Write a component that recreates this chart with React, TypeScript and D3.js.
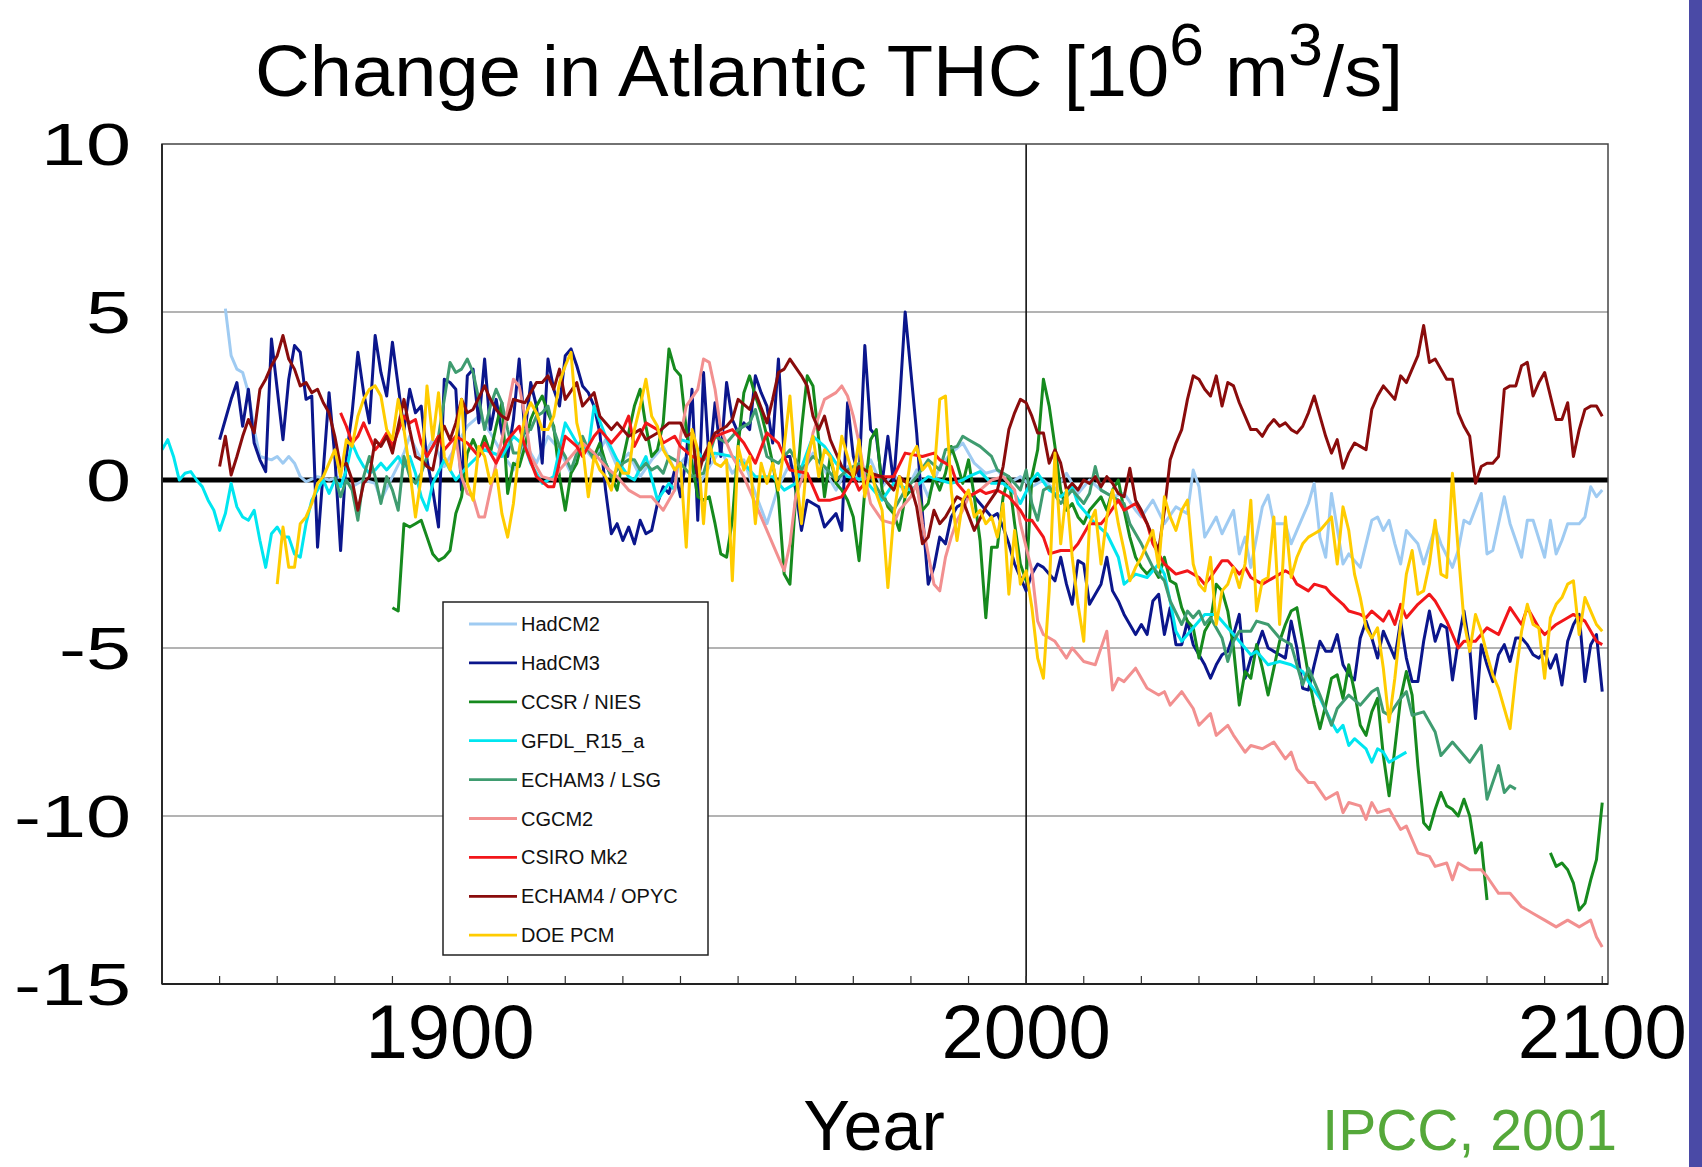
import * as d3 from "d3";

type Pt = [number, number | null];

// values, [year, Sv]
const hadcm2: Pt[] = [[1861,5.1],[1862,3.7],[1863,3.3],[1864,3.2],[1865,2.6],[1866,1.5],[1867,0.7],[1869,0.6],[1870,0.7],[1871,0.5],[1872,0.7],[1873,0.5],[1874,0.1],[1875,-0.05],[1877,0.1],[1879,0.0],[1881,0.1],[1883,-0.2],[1885,0.0],[1887,-0.1],[1888,-0.6],[1890,0.1],[1892,0.8],[1893,1.3],[1895,0.6],[1897,1.2],[1899,0.4],[1901,1.0],[1903,1.6],[1905,1.9],[1907,1.4],[1909,0.8],[1911,0.3],[1913,1.1],[1915,0.5],[1917,1.3],[1919,0.9],[1921,0.2],[1923,1.0],[1925,0.6],[1927,1.2],[1929,0.4],[1931,0.8],[1933,0.1],[1935,0.6],[1937,1.0],[1939,0.3],[1941,0.7],[1943,-0.2],[1945,0.4],[1947,0.9],[1949,0.2],[1951,0.6],[1953,-0.4],[1955,-1.3],[1957,-0.2],[1959,0.5],[1961,0.1],[1963,0.8],[1965,0.3],[1967,-0.3],[1969,0.4],[1971,0.0],[1973,0.6],[1975,-0.2],[1977,0.2],[1979,-0.4],[1981,0.3],[1983,-0.5],[1985,0.4],[1987,0.8],[1989,1.1],[1991,0.5],[1993,0.2],[1995,0.3],[1997,-0.1],[1999,0.1],[2001,-0.2],[2003,0.0],[2005,-0.3],[2007,0.2],[2009,-0.4],[2011,0.0],[2013,-0.3],[2015,-0.5],[2017,-0.4],[2019,-0.9],[2020,-1.1],[2022,-0.6],[2024,-1.3],[2026,-0.8],[2028,-1.0],[2029,0.3],[2030,-0.2],[2031,-1.7],[2033,-1.1],[2034,-1.6],[2036,-0.9],[2037,-2.2],[2038,-1.7],[2039,-2.6],[2041,-0.8],[2042,-0.45],[2043,-1.3],[2045,-1.3],[2046,-1.9],[2047,-1.5],[2049,-0.7],[2050,-0.1],[2051,-1.7],[2052,-2.3],[2053,-0.4],[2055,-2.5],[2056,-2.2],[2058,-2.6],[2060,-1.2],[2061,-1.1],[2062,-1.5],[2063,-1.2],[2064,-1.9],[2065,-2.5],[2066,-1.5],[2068,-1.9],[2069,-2.5],[2071,-1.4],[2072,-1.9],[2074,-2.6],[2075,-2.1],[2076,-1.2],[2077,-1.3],[2079,-0.4],[2080,-2.2],[2081,-2.1],[2083,-0.5],[2084,-1.3],[2086,-2.3],[2087,-1.2],[2088,-1.2],[2090,-2.3],[2091,-1.2],[2092,-2.2],[2093,-1.8],[2094,-1.3],[2096,-1.3],[2097,-1.1],[2098,-0.2],[2099,-0.5],[2100,-0.3]];

const hadcm3: Pt[] = [[1860,1.2],[1861,1.8],[1862,2.4],[1863,2.9],[1864,1.6],[1865,2.7],[1866,1.1],[1867,0.6],[1868,0.25],[1869,4.2],[1870,2.7],[1871,1.2],[1872,3.0],[1873,4.0],[1874,3.8],[1875,2.4],[1876,2.5],[1877,-2.0],[1878,0.3],[1879,2.6],[1880,0.7],[1881,-2.1],[1882,0.7],[1883,2.0],[1884,3.8],[1885,2.6],[1886,1.7],[1887,4.3],[1888,3.2],[1889,2.5],[1890,4.1],[1891,2.8],[1892,1.5],[1893,2.7],[1894,2.0],[1895,2.2],[1896,0.6],[1897,-0.3],[1898,-1.4],[1899,3.0],[1900,2.9],[1901,2.7],[1902,-0.3],[1903,3.1],[1904,3.3],[1905,1.7],[1906,3.6],[1907,1.5],[1908,2.4],[1909,1.4],[1910,0.7],[1911,1.8],[1912,3.6],[1913,1.4],[1914,2.9],[1915,2.2],[1916,0.5],[1917,3.6],[1918,2.7],[1919,2.2],[1920,3.7],[1921,3.9],[1922,3.4],[1923,2.8],[1924,2.6],[1925,2.2],[1926,1.4],[1927,-0.3],[1928,-1.6],[1929,-1.3],[1930,-1.8],[1931,-1.4],[1932,-1.9],[1933,-1.2],[1934,-1.6],[1935,-1.5],[1936,-0.7],[1937,-0.2],[1938,-0.4],[1939,0.3],[1940,-0.5],[1941,0.7],[1942,2.7],[1943,-1.2],[1944,3.2],[1945,0.5],[1946,2.3],[1947,0.7],[1948,2.9],[1949,1.8],[1950,1.4],[1951,1.7],[1952,1.5],[1953,3.1],[1954,2.6],[1955,2.2],[1956,1.1],[1957,3.6],[1958,0.7],[1959,0.7],[1960,-0.3],[1961,-1.5],[1962,-0.6],[1963,-0.7],[1964,-0.8],[1965,-1.4],[1966,-1.2],[1967,-1.0],[1968,-1.5],[1969,2.3],[1970,0.7],[1971,0.1],[1972,4.0],[1973,1.5],[1974,1.3],[1975,-0.1],[1976,1.3],[1977,-0.1],[1978,2.2],[1979,5.0],[1980,3.2],[1981,1.4],[1982,-1.0],[1983,-3.1],[1984,-2.6],[1985,-1.7],[1986,-1.9],[1987,-1.1],[1988,-0.8],[1989,-0.7],[1990,-0.4],[1991,-0.5],[1992,-0.7],[1993,-0.9],[1994,-1.1],[1995,-1.0],[1996,-1.4],[1997,-1.9],[1998,-2.5],[1999,-2.9],[2000,-3.3],[2001,-2.8],[2002,-2.5],[2003,-2.6],[2004,-2.8],[2005,-3.0],[2006,-2.3],[2007,-3.1],[2008,-3.7],[2009,-2.4],[2010,-2.5],[2011,-3.7],[2012,-3.4],[2013,-3.1],[2014,-2.3],[2015,-3.3],[2016,-3.6],[2017,-4.0],[2018,-4.3],[2019,-4.6],[2020,-4.3],[2021,-4.6],[2022,-3.6],[2023,-3.4],[2024,-4.6],[2025,-3.8],[2026,-4.9],[2027,-4.9],[2028,-4.2],[2029,-4.9],[2030,-5.2],[2031,-5.5],[2032,-5.9],[2033,-5.5],[2034,-5.2],[2035,-5.1],[2036,-4.6],[2037,-4.0],[2038,-5.9],[2039,-5.3],[2040,-5.0],[2041,-4.5],[2042,-5.0],[2043,-5.1],[2044,-5.2],[2045,-5.3],[2046,-4.2],[2047,-5.0],[2048,-6.2],[2049,-6.25],[2050,-5.5],[2051,-4.8],[2052,-5.1],[2053,-5.1],[2054,-4.6],[2055,-5.5],[2056,-5.8],[2057,-5.95],[2058,-4.7],[2059,-4.2],[2060,-4.7],[2061,-5.3],[2062,-4.5],[2063,-4.9],[2064,-5.3],[2065,-4.2],[2066,-5.3],[2067,-6.0],[2068,-6.0],[2069,-4.8],[2070,-3.9],[2071,-4.8],[2072,-4.3],[2073,-4.4],[2074,-5.95],[2075,-4.8],[2076,-3.9],[2077,-5.0],[2078,-7.1],[2079,-4.9],[2080,-5.5],[2081,-6.0],[2082,-5.2],[2083,-4.9],[2084,-5.4],[2085,-4.7],[2086,-4.7],[2087,-4.9],[2088,-5.2],[2089,-5.3],[2090,-5.1],[2091,-5.6],[2092,-5.2],[2093,-6.1],[2094,-4.8],[2095,-4.3],[2096,-4.0],[2097,-6.0],[2098,-4.9],[2099,-4.6],[2100,-6.3]];

const ccsr: Pt[] = [[1890,-3.8],[1891,-3.9],[1892,-1.3],[1893,-1.4],[1894,-1.3],[1895,-1.2],[1896,-1.7],[1897,-2.2],[1898,-2.4],[1899,-2.3],[1900,-2.1],[1901,-1.0],[1902,-0.5],[1903,0.8],[1904,1.2],[1905,0.8],[1906,1.3],[1907,0.8],[1908,1.6],[1909,2.3],[1910,-0.4],[1911,0.5],[1912,0.4],[1913,1.0],[1914,1.8],[1915,2.2],[1916,2.5],[1917,2.0],[1918,1.6],[1919,0.1],[1920,-0.9],[1921,0.2],[1922,0.5],[1923,1.2],[1924,0.9],[1925,0.7],[1926,1.1],[1927,0.5],[1928,0.1],[1929,-0.3],[1930,0.6],[1931,1.4],[1932,2.2],[1933,2.7],[1934,1.6],[1935,0.7],[1936,0.9],[1937,1.7],[1938,3.9],[1939,3.3],[1940,3.1],[1941,1.5],[1942,0.5],[1943,-0.5],[1944,-0.6],[1945,-0.5],[1946,-1.3],[1947,-2.2],[1948,-2.3],[1949,-1.2],[1950,1.0],[1951,2.6],[1952,3.1],[1953,2.5],[1954,2.0],[1955,1.3],[1956,0.5],[1957,-0.5],[1958,-2.8],[1959,-3.1],[1960,-0.5],[1961,1.5],[1962,3.1],[1963,2.8],[1964,1.2],[1965,-0.5],[1966,0.7],[1967,-0.1],[1968,-0.3],[1969,-0.6],[1970,-1.1],[1971,-2.4],[1972,-0.3],[1973,1.2],[1974,1.5],[1975,-0.3],[1976,-0.8],[1977,-1.0],[1978,-1.5],[1979,-0.5],[1980,-0.3],[1981,-0.2],[1982,-0.9],[1983,-0.7],[1984,0.1],[1985,-0.3],[1986,0.2],[1987,1.0],[1988,0.5],[1989,-0.1],[1990,0.6],[1991,-0.5],[1992,-1.8],[1993,-4.1],[1994,-2.0],[1995,-2.0],[1996,-0.5],[1997,0.1],[1998,-1.3],[1999,-2.5],[2000,-3.0],[2001,0.1],[2002,0.9],[2003,3.0],[2004,2.2],[2005,1.0],[2006,-0.3],[2007,-0.9],[2008,-0.7],[2009,-1.1],[2010,-1.3],[2011,-0.9],[2012,-0.7],[2013,-0.5],[2014,-0.9],[2015,-0.3],[2016,0.0],[2017,-0.9],[2018,-1.7],[2019,-2.3],[2020,-2.6],[2021,-2.8],[2022,-2.6],[2023,-2.9],[2024,-2.3],[2025,-3.0],[2026,-3.1],[2027,-3.8],[2028,-4.2],[2029,-4.4],[2030,-5.3],[2031,-4.5],[2032,-4.2],[2033,-3.1],[2034,-3.3],[2035,-3.9],[2036,-5.0],[2037,-6.7],[2038,-5.7],[2039,-5.9],[2040,-4.9],[2041,-5.6],[2042,-6.4],[2043,-5.6],[2044,-4.8],[2045,-4.3],[2046,-3.9],[2047,-3.8],[2048,-4.8],[2049,-5.8],[2050,-6.7],[2051,-7.4],[2052,-6.7],[2053,-5.9],[2054,-5.8],[2055,-6.5],[2056,-5.5],[2057,-6.3],[2058,-7.3],[2059,-7.6],[2060,-6.9],[2061,-6.5],[2062,-8.2],[2063,-9.4],[2064,-8.0],[2065,-6.5],[2066,-5.7],[2067,-6.4],[2068,-8.5],[2069,-10.2],[2070,-10.4],[2071,-9.8],[2072,-9.3],[2073,-9.7],[2074,-9.8],[2075,-10.0],[2076,-9.5],[2077,-10.0],[2078,-11.1],[2079,-10.8],[2080,-12.5],[2085,null],[2091,-11.1],[2092,-11.5],[2093,-11.4],[2094,-11.6],[2095,-12.0],[2096,-12.8],[2097,-12.6],[2098,-11.9],[2099,-11.3],[2100,-9.6]];

const gfdl: Pt[] = [[1850,0.9],[1851,1.2],[1852,0.7],[1853,0.0],[1854,0.2],[1855,0.25],[1856,0.0],[1857,-0.2],[1858,-0.6],[1859,-0.9],[1860,-1.5],[1861,-1.0],[1862,-0.1],[1863,-0.8],[1864,-1.1],[1865,-1.2],[1866,-0.9],[1867,-1.8],[1868,-2.6],[1869,-1.6],[1870,-1.4],[1871,-1.7],[1872,-1.7],[1873,-2.2],[1874,-2.3],[1875,-1.3],[1876,-0.6],[1877,-0.3],[1878,0.0],[1879,-0.4],[1880,0.0],[1881,-0.2],[1882,0.3],[1883,1.1],[1884,0.7],[1885,0.4],[1886,0.2],[1887,0.3],[1888,0.5],[1889,0.3],[1890,0.5],[1891,0.7],[1892,0.4],[1893,0.7],[1894,0.2],[1895,-0.5],[1896,-0.9],[1897,-0.1],[1899,0.6],[1901,0.0],[1903,0.4],[1906,0.9],[1909,0.7],[1911,1.3],[1913,1.0],[1914,0.5],[1916,-0.1],[1918,0.1],[1920,1.7],[1922,1.1],[1924,0.9],[1925,2.2],[1927,1.3],[1929,0.6],[1931,0.1],[1932,0.0],[1934,0.7],[1936,-0.6],[1938,-0.1],[1939,-0.3],[1940,1.2],[1942,1.1],[1944,0.6],[1946,0.8],[1949,0.7],[1951,0.5],[1953,0.1],[1956,0.1],[1958,-0.3],[1960,-0.1],[1963,1.3],[1965,1.0],[1967,0.5],[1969,0.1],[1972,0.0],[1975,-0.6],[1977,-0.1],[1980,-0.3],[1983,0.1],[1985,0.0],[1987,-0.1],[1989,0.0],[1990,0.1],[1992,0.25],[1994,-0.1],[1996,-0.1],[1998,-0.4],[1999,-0.7],[2001,0.0],[2002,0.2],[2004,-0.3],[2006,-0.5],[2008,-0.2],[2009,-0.7],[2011,-1.1],[2012,-1.3],[2014,-1.6],[2016,-2.3],[2017,-3.1],[2019,-2.8],[2021,-2.9],[2023,-2.5],[2024,-2.8],[2025,-3.6],[2026,-4.5],[2027,-4.8],[2029,-4.4],[2031,-4.0],[2033,-4.0],[2035,-4.4],[2037,-4.8],[2039,-5.2],[2040,-5.1],[2042,-5.5],[2044,-5.4],[2046,-5.5],[2048,-5.7],[2049,-6.0],[2051,-6.5],[2053,-7.2],[2054,-7.5],[2055,-7.3],[2056,-7.9],[2057,-7.7],[2059,-8.0],[2060,-8.4],[2061,-8.0],[2062,-8.1],[2063,-8.4],[2064,-8.3],[2066,-8.1]];

const echam3: Pt[] = [[1880,0.1],[1881,-0.5],[1882,0.0],[1883,-0.3],[1884,-1.2],[1885,0.1],[1886,0.7],[1887,0.1],[1888,-0.7],[1889,0.1],[1890,-0.3],[1891,-0.9],[1892,0.7],[1893,0.1],[1894,-0.1],[1895,0.2],[1896,0.7],[1897,1.0],[1898,1.3],[1899,2.4],[1900,3.5],[1901,3.2],[1902,3.3],[1903,3.6],[1904,3.2],[1905,2.4],[1906,1.5],[1907,2.2],[1908,2.7],[1909,2.3],[1910,1.5],[1911,0.8],[1912,0.8],[1913,1.5],[1914,1.5],[1915,1.9],[1916,2.0],[1917,2.2],[1918,1.5],[1919,1.0],[1920,0.7],[1921,0.3],[1922,0.8],[1923,1.3],[1924,0.9],[1925,0.6],[1926,0.8],[1927,0.5],[1928,0.1],[1929,0.3],[1930,0.5],[1931,0.6],[1932,0.6],[1933,0.3],[1934,0.5],[1935,0.3],[1936,0.4],[1937,0.2],[1938,0.7],[1939,0.6],[1940,0.5],[1942,0.1],[1944,0.2],[1946,1.3],[1948,1.1],[1950,1.5],[1952,1.7],[1953,2.1],[1955,0.7],[1957,0.5],[1959,0.9],[1961,0.3],[1963,0.7],[1965,0.4],[1967,0.0],[1969,0.3],[1971,0.5],[1973,0.1],[1975,-0.5],[1977,-0.9],[1979,-0.3],[1981,0.1],[1983,0.6],[1985,0.3],[1986,0.9],[1988,1.0],[1989,1.3],[1990,1.2],[1992,1.0],[1994,0.7],[1995,0.3],[1997,0.1],[1999,-0.3],[2000,0.3],[2001,-0.7],[2002,-1.2],[2003,-0.3],[2004,-0.2],[2006,-0.7],[2008,-0.3],[2010,-0.7],[2011,-0.4],[2012,0.4],[2013,-0.3],[2015,-0.5],[2017,-0.7],[2018,-1.3],[2020,-1.9],[2022,-2.6],[2024,-3.0],[2025,-3.6],[2027,-4.3],[2028,-3.9],[2029,-4.1],[2030,-3.9],[2031,-4.3],[2032,-4.1],[2034,-4.7],[2035,-5.4],[2036,-4.8],[2037,-4.5],[2039,-4.5],[2040,-4.2],[2042,-4.3],[2043,-4.5],[2044,-4.7],[2045,-4.8],[2046,-4.9],[2047,-5.5],[2048,-6.1],[2049,-5.6],[2051,-6.4],[2053,-7.3],[2054,-6.8],[2056,-6.4],[2058,-6.7],[2060,-6.3],[2061,-6.2],[2062,-6.9],[2063,-7.0],[2065,-6.5],[2066,-6.3],[2067,-7.0],[2069,-6.9],[2071,-7.5],[2072,-8.2],[2074,-7.8],[2075,-8.0],[2077,-8.4],[2079,-7.9],[2080,-9.5],[2082,-8.5],[2083,-9.3],[2084,-9.1],[2085,-9.2]];

const cgcm2: Pt[] = [[1900,0.4],[1901,1.3],[1902,0.1],[1903,-0.4],[1904,-0.5],[1905,-1.1],[1906,-1.1],[1907,-0.3],[1908,0.5],[1909,1.2],[1910,2.1],[1911,3.0],[1912,2.8],[1913,1.9],[1914,0.7],[1916,0.1],[1918,0.0],[1919,0.3],[1921,0.7],[1923,1.1],[1925,0.8],[1927,0.4],[1929,0.1],[1931,-0.3],[1933,-0.5],[1935,-0.5],[1937,-0.9],[1939,-0.3],[1940,1.3],[1941,2.2],[1943,2.7],[1944,3.6],[1945,3.5],[1946,2.7],[1947,1.5],[1949,0.7],[1951,0.1],[1952,-0.3],[1954,-1.1],[1956,-1.9],[1958,-2.7],[1959,-1.9],[1960,-0.5],[1962,0.5],[1963,1.4],[1965,2.4],[1967,2.6],[1968,2.8],[1969,2.5],[1970,1.9],[1971,1.1],[1972,0.1],[1973,-0.7],[1975,-1.2],[1977,-1.3],[1978,-0.9],[1980,-0.5],[1981,-0.1],[1982,-1.3],[1984,-3.1],[1985,-3.3],[1986,-2.3],[1987,-1.7],[1988,-1.2],[1989,-0.9],[1990,-0.5],[1992,-0.3],[1994,0.0],[1996,0.1],[1998,-0.3],[1999,-1.3],[2001,-2.7],[2002,-4.2],[2003,-4.6],[2005,-4.8],[2007,-5.3],[2008,-5.0],[2010,-5.4],[2012,-5.5],[2014,-4.5],[2015,-6.25],[2016,-5.9],[2017,-6.0],[2019,-5.6],[2021,-6.2],[2023,-6.4],[2024,-6.3],[2025,-6.7],[2027,-6.3],[2029,-6.8],[2030,-7.3],[2032,-6.95],[2033,-7.6],[2035,-7.3],[2036,-7.6],[2038,-8.1],[2039,-7.9],[2041,-8.0],[2043,-7.8],[2045,-8.3],[2046,-8.1],[2047,-8.6],[2049,-9.0],[2050,-9.0],[2052,-9.5],[2054,-9.3],[2055,-9.9],[2056,-9.6],[2058,-9.7],[2059,-10.1],[2060,-9.6],[2061,-9.9],[2063,-9.8],[2065,-10.4],[2066,-10.3],[2068,-11.1],[2070,-11.2],[2071,-11.5],[2073,-11.4],[2074,-11.9],[2075,-11.4],[2077,-11.6],[2079,-11.6],[2080,-11.8],[2082,-12.3],[2084,-12.3],[2086,-12.7],[2088,-12.9],[2090,-13.1],[2092,-13.3],[2094,-13.1],[2096,-13.3],[2097,-13.2],[2098,-13.1],[2099,-13.6],[2100,-13.9]];

const csiro: Pt[] = [[1881,2.0],[1882,1.6],[1883,1.1],[1884,1.3],[1885,1.7],[1886,1.3],[1887,0.9],[1888,1.1],[1889,1.4],[1890,1.0],[1892,1.9],[1893,1.7],[1894,1.8],[1895,1.1],[1896,0.7],[1897,1.0],[1898,1.3],[1899,0.9],[1901,1.3],[1903,1.1],[1905,0.7],[1906,1.1],[1908,0.5],[1910,1.2],[1912,1.6],[1913,1.0],[1915,0.1],[1917,-0.2],[1918,-0.2],[1920,1.3],[1922,1.0],[1923,0.7],[1925,1.3],[1926,1.5],[1928,1.1],[1930,1.5],[1931,1.9],[1932,1.0],[1934,1.7],[1936,1.5],[1937,1.1],[1939,1.3],[1940,1.0],[1942,0.7],[1944,0.6],[1946,1.3],[1949,1.5],[1951,1.1],[1953,0.5],[1955,1.4],[1957,1.1],[1959,0.3],[1962,0.2],[1964,-0.6],[1966,-0.6],[1968,-0.5],[1970,0.1],[1971,-0.3],[1973,0.1],[1975,0.1],[1977,0.1],[1979,0.8],[1982,0.7],[1984,0.8],[1985,0.6],[1987,0.4],[1988,-0.1],[1990,-0.5],[1992,-0.3],[1993,-0.4],[1995,-0.3],[1997,-0.5],[1999,-0.9],[2000,-1.2],[2001,-1.2],[2003,-1.7],[2004,-2.2],[2006,-2.1],[2008,-2.1],[2009,-1.9],[2011,-1.3],[2013,-1.3],[2014,-1.1],[2016,-0.6],[2017,-0.9],[2019,-0.7],[2021,-1.3],[2022,-1.9],[2024,-2.5],[2026,-2.8],[2028,-2.7],[2030,-2.9],[2031,-3.1],[2032,-2.9],[2034,-2.4],[2035,-2.4],[2037,-2.8],[2038,-2.6],[2039,-2.9],[2041,-3.1],[2042,-3.0],[2044,-2.8],[2045,-2.7],[2046,-2.8],[2047,-3.1],[2049,-3.3],[2050,-3.1],[2052,-3.2],[2053,-3.4],[2055,-3.7],[2056,-3.9],[2058,-4.0],[2059,-4.1],[2060,-3.9],[2062,-4.2],[2063,-3.9],[2064,-4.3],[2065,-3.7],[2066,-4.1],[2068,-3.7],[2070,-3.4],[2071,-3.6],[2073,-4.2],[2075,-5.0],[2076,-4.8],[2078,-4.8],[2080,-4.4],[2082,-4.6],[2084,-3.8],[2086,-4.3],[2087,-3.8],[2089,-4.4],[2090,-4.6],[2092,-4.3],[2094,-4.1],[2095,-4.0],[2097,-4.2],[2099,-4.8],[2100,-4.9]];

const echam4: Pt[] = [[1860,0.4],[1861,1.3],[1862,0.15],[1863,0.7],[1864,1.3],[1865,1.8],[1866,1.4],[1867,2.7],[1868,3.0],[1869,3.4],[1870,3.7],[1871,4.3],[1872,3.6],[1873,3.3],[1874,2.8],[1875,2.9],[1876,2.6],[1877,2.7],[1878,2.3],[1879,2.0],[1880,1.3],[1881,0.4],[1882,0.5],[1883,0.0],[1884,-0.9],[1885,-0.1],[1886,0.1],[1887,1.2],[1888,1.0],[1889,1.3],[1890,0.8],[1891,1.6],[1892,2.4],[1893,1.5],[1894,0.7],[1895,0.6],[1896,0.4],[1897,0.3],[1898,1.2],[1899,1.6],[1900,1.2],[1901,1.7],[1902,2.4],[1903,2.0],[1904,2.1],[1906,2.8],[1907,2.4],[1908,2.1],[1909,1.9],[1910,1.8],[1911,2.4],[1913,2.3],[1915,2.9],[1916,2.9],[1917,3.1],[1918,2.7],[1919,3.3],[1920,2.4],[1922,2.9],[1923,2.2],[1925,2.6],[1926,1.9],[1928,1.5],[1929,1.7],[1931,1.3],[1933,1.5],[1934,1.2],[1936,1.4],[1938,1.7],[1940,1.7],[1941,1.3],[1942,1.4],[1943,0.1],[1944,0.7],[1946,1.4],[1948,1.6],[1949,1.8],[1950,2.4],[1952,2.1],[1953,2.6],[1955,1.7],[1956,2.4],[1957,3.2],[1958,3.3],[1959,3.6],[1961,3.1],[1962,2.8],[1963,1.9],[1964,1.5],[1965,1.9],[1966,1.2],[1968,0.4],[1970,0.1],[1971,0.4],[1973,0.2],[1975,0.1],[1977,-0.3],[1978,0.1],[1980,-0.2],[1981,-0.8],[1982,-1.9],[1983,-1.7],[1984,-0.9],[1985,-1.3],[1986,-1.1],[1988,-0.5],[1989,-0.6],[1991,-1.5],[1993,-0.8],[1995,-0.3],[1996,0.4],[1997,1.5],[1998,2.0],[1999,2.4],[2000,2.3],[2001,1.9],[2002,1.4],[2003,1.4],[2004,0.5],[2005,0.9],[2006,0.5],[2007,-0.3],[2008,-0.1],[2009,-0.3],[2010,0.0],[2011,-0.1],[2012,0.1],[2013,-0.2],[2014,0.1],[2015,-0.1],[2016,-0.4],[2017,-0.5],[2018,0.35],[2019,-0.6],[2020,-0.9],[2021,-1.3],[2022,-1.7],[2023,-2.1],[2024,-0.9],[2025,0.6],[2026,1.1],[2027,1.5],[2028,2.4],[2029,3.1],[2030,3.0],[2031,2.7],[2032,2.5],[2033,3.1],[2034,2.2],[2035,2.9],[2036,2.8],[2037,2.3],[2038,1.9],[2039,1.5],[2040,1.5],[2041,1.3],[2042,1.6],[2043,1.8],[2044,1.6],[2045,1.7],[2046,1.5],[2047,1.4],[2048,1.6],[2049,2.0],[2050,2.5],[2051,1.9],[2052,1.3],[2053,0.8],[2054,1.2],[2055,0.35],[2056,0.8],[2057,1.1],[2058,1.0],[2059,0.9],[2060,2.1],[2061,2.5],[2062,2.8],[2063,2.6],[2064,2.4],[2065,3.1],[2066,2.9],[2067,3.3],[2068,3.7],[2069,4.6],[2070,3.5],[2071,3.6],[2072,3.3],[2073,3.0],[2074,3.0],[2075,2.0],[2076,1.6],[2077,1.3],[2078,-0.1],[2079,0.4],[2080,0.5],[2081,0.5],[2082,0.7],[2083,2.7],[2084,2.8],[2085,2.8],[2086,3.4],[2087,3.5],[2088,2.5],[2089,2.9],[2090,3.2],[2091,2.5],[2092,1.8],[2093,1.8],[2094,2.3],[2095,0.7],[2096,1.5],[2097,2.1],[2098,2.2],[2099,2.2],[2100,1.9]];

const doepcm: Pt[] = [[1870,-3.1],[1871,-1.4],[1872,-2.6],[1873,-2.6],[1874,-1.3],[1875,-1.1],[1876,-0.7],[1877,-0.1],[1878,0.1],[1879,0.5],[1880,0.9],[1881,0.1],[1882,1.2],[1883,1.0],[1884,1.9],[1885,2.4],[1886,2.7],[1887,2.8],[1888,2.5],[1889,1.5],[1890,1.2],[1891,2.4],[1892,1.5],[1893,0.3],[1894,-1.1],[1895,0.1],[1896,2.8],[1897,1.2],[1898,2.6],[1899,0.7],[1900,0.3],[1901,1.2],[1902,2.4],[1903,-0.1],[1904,-0.6],[1905,1.0],[1906,0.7],[1907,-0.1],[1908,0.3],[1909,-1.0],[1910,-1.7],[1911,-0.7],[1912,0.9],[1913,1.9],[1914,2.3],[1915,2.0],[1916,1.5],[1917,1.5],[1918,1.9],[1919,2.9],[1920,3.4],[1921,3.8],[1922,1.7],[1923,1.0],[1924,-0.5],[1925,0.7],[1926,0.3],[1927,0.1],[1928,-0.3],[1929,0.5],[1930,0.2],[1931,0.2],[1932,1.5],[1933,2.2],[1934,3.0],[1935,1.9],[1936,1.6],[1937,0.9],[1938,0.6],[1939,0.3],[1940,0.5],[1941,-2.0],[1942,1.5],[1943,0.9],[1944,-1.3],[1945,1.1],[1946,0.5],[1947,0.4],[1948,0.6],[1949,-3.0],[1950,1.0],[1951,0.3],[1952,0.7],[1953,-1.3],[1954,0.5],[1955,-0.1],[1956,0.5],[1957,-0.3],[1958,1.0],[1959,2.5],[1960,0.3],[1961,-1.3],[1962,0.7],[1963,1.3],[1964,0.1],[1965,0.9],[1966,0.7],[1967,0.0],[1968,1.3],[1969,0.7],[1970,0.1],[1971,1.2],[1972,-0.5],[1973,0.4],[1974,-0.4],[1975,-0.9],[1976,-3.2],[1977,-1.1],[1978,0.1],[1979,-0.5],[1980,0.7],[1981,1.0],[1982,0.3],[1983,0.5],[1984,0.1],[1985,2.4],[1986,2.5],[1987,-0.3],[1988,-1.8],[1989,-0.6],[1990,-0.3],[1991,-1.1],[1992,-0.9],[1993,-1.3],[1994,-1.1],[1995,-1.7],[1996,-0.7],[1997,-3.4],[1998,-1.5],[1999,-3.1],[2000,-2.7],[2001,-3.8],[2002,-5.3],[2003,-5.9],[2004,-3.3],[2005,0.8],[2006,-1.9],[2007,-0.3],[2008,-2.3],[2009,-3.7],[2010,-4.8],[2011,-1.3],[2012,-0.9],[2013,-2.5],[2014,-1.1],[2015,-0.3],[2016,-1.3],[2017,-2.1],[2018,-3.0],[2019,-2.6],[2020,-2.3],[2021,-1.9],[2022,-1.5],[2023,-2.6],[2024,-0.5],[2025,-1.1],[2026,-1.5],[2027,-0.9],[2028,-0.6],[2029,-2.5],[2030,-3.1],[2031,-3.3],[2032,-2.3],[2033,-4.3],[2034,-3.3],[2035,-3.1],[2036,-2.6],[2037,-3.2],[2038,-2.5],[2039,-0.6],[2040,-3.9],[2041,-3.0],[2042,-2.9],[2043,-1.1],[2044,-4.3],[2045,-1.1],[2046,-2.9],[2047,-2.3],[2048,-1.9],[2049,-1.7],[2050,-1.6],[2051,-1.5],[2052,-1.3],[2053,-1.1],[2054,-2.5],[2055,-0.8],[2056,-1.5],[2057,-2.8],[2058,-3.5],[2059,-4.4],[2060,-4.7],[2061,-4.4],[2062,-5.6],[2063,-7.2],[2064,-5.9],[2065,-4.3],[2066,-2.8],[2067,-2.1],[2068,-3.4],[2069,-3.3],[2070,-2.5],[2071,-1.2],[2072,-2.8],[2073,-2.9],[2074,0.2],[2075,-2.1],[2076,-4.2],[2077,-5.1],[2078,-4.0],[2079,-4.5],[2080,-5.2],[2081,-5.8],[2082,-6.2],[2083,-6.8],[2084,-7.4],[2085,-5.8],[2086,-4.5],[2087,-3.7],[2088,-4.3],[2089,-4.4],[2090,-5.9],[2091,-4.1],[2092,-3.7],[2093,-3.5],[2094,-3.1],[2095,-3.0],[2096,-4.6],[2097,-3.5],[2098,-3.9],[2099,-4.3],[2100,-4.5]];

const modelNames = ["HadCM2", "HadCM3", "CCSR / NIES", "GFDL_R15_a", "ECHAM3 / LSG", "CGCM2", "CSIRO Mk2", "ECHAM4 / OPYC", "DOE PCM"];
const modelData = [hadcm2, hadcm3, ccsr, gfdl, echam3, cgcm2, csiro, echam4, doepcm];
const modelColors = ["#9fcbf2", "#0b168c", "#168a1e", "#00e6f0", "#3f9c70", "#f29090", "#f2161a", "#8a0c0c", "#ffcc00"];

const yTicks = [10, 5, 0, -5, -10, -15];
const gridValues = [5, -5, -10];
const xLabels = [1900, 2000, 2100];
const minorTicks = d3.range(1860, 2101, 10);

const W = 1702, H = 1167;
const font = "'Liberation Sans', Arial, Helvetica, sans-serif";

export default function App() {
  const x = d3.scaleLinear().domain([1850, 2101]).range([162, 1608]);
  const y = d3.scaleLinear().domain([-15, 10]).range([984, 144]);
  const [x0, x1] = x.range();
  const [y0, y1] = [y(-15), y(10)];

  const line = d3
    .line<Pt>()
    .defined((d) => d[1] !== null)
    .x((d) => x(d[0]))
    .y((d) => y(d[1] as number));

  const legendX = 443, legendY = 602, legendW = 265, legendH = 353;

  return (
    <svg width={W} height={H} style={{ position: "absolute", left: 0, top: 0, background: "#fff" }} fontFamily={font}>
      <rect x={1689} y={0} width={13} height={H} fill="#4a4aa6" />

      {/* title is a little wider than plain Liberation Sans */}
      <text transform="translate(255,96) scale(1.04,1)" fontSize={73} fill="#000">
        Change in Atlantic THC [10
        <tspan dy={-31} fontSize={60}>6</tspan>
        <tspan dy={31}> m</tspan>
        <tspan dy={-31} fontSize={60}>3</tspan>
        <tspan dy={31}>/s]</tspan>
      </text>

      {gridValues.map((v) => (
        <line key={v} x1={x0} x2={x1} y1={y(v)} y2={y(v)} stroke="#9a9a9a" strokeWidth={1.5} />
      ))}
      <line x1={x(2000)} x2={x(2000)} y1={y1} y2={y0} stroke="#111" strokeWidth={1.6} />

      {minorTicks.map((t) => (
        <line key={t} x1={x(t)} x2={x(t)} y1={y0} y2={y0 - 8} stroke="#333" strokeWidth={1.2} />
      ))}

      <line x1={x0} x2={x1} y1={y(0)} y2={y(0)} stroke="#000" strokeWidth={5} />

      <g fill="none" strokeWidth={3} strokeLinejoin="round">
        {modelData.map((d, i) => (
          <path key={modelNames[i]} d={line(d) ?? ""} stroke={modelColors[i]} />
        ))}
      </g>

      <rect x={x0} y={y1} width={x1 - x0} height={y0 - y1} fill="none" stroke="#444" strokeWidth={1.5} />
      <line x1={x0} x2={x0} y1={y1} y2={y0} stroke="#222" strokeWidth={1.8} />
      <line x1={x0} x2={x1} y1={y0} y2={y0} stroke="#222" strokeWidth={1.8} />

      {yTicks.map((v) => (
        <text key={v} transform={`translate(131,${y(v) + 21}) scale(1.35,1)`} fontSize={60} textAnchor="end" fill="#000">
          {v}
        </text>
      ))}
      {xLabels.map((v) => (
        <text key={v} x={x(v)} y={1058} fontSize={76} textAnchor="middle" fill="#000">
          {v}
        </text>
      ))}
      <text x={874} y={1150} fontSize={70} textAnchor="middle" fill="#000">Year</text>
      <text x={1617} y={1150} fontSize={57} textAnchor="end" fill="#55a83a">IPCC, 2001</text>

      <rect x={legendX} y={legendY} width={legendW} height={legendH} fill="#fff" stroke="#222" strokeWidth={1.5} />
      {modelNames.map((name, i) => {
        const ly = legendY + 22 + i * 38.9;
        return (
          <g key={name}>
            <line x1={legendX + 26} x2={legendX + 74} y1={ly} y2={ly} stroke={modelColors[i]} strokeWidth={2.8} />
            <text x={legendX + 78} y={ly + 7} fontSize={20} fill="#111">{name}</text>
          </g>
        );
      })}
    </svg>
  );
}
